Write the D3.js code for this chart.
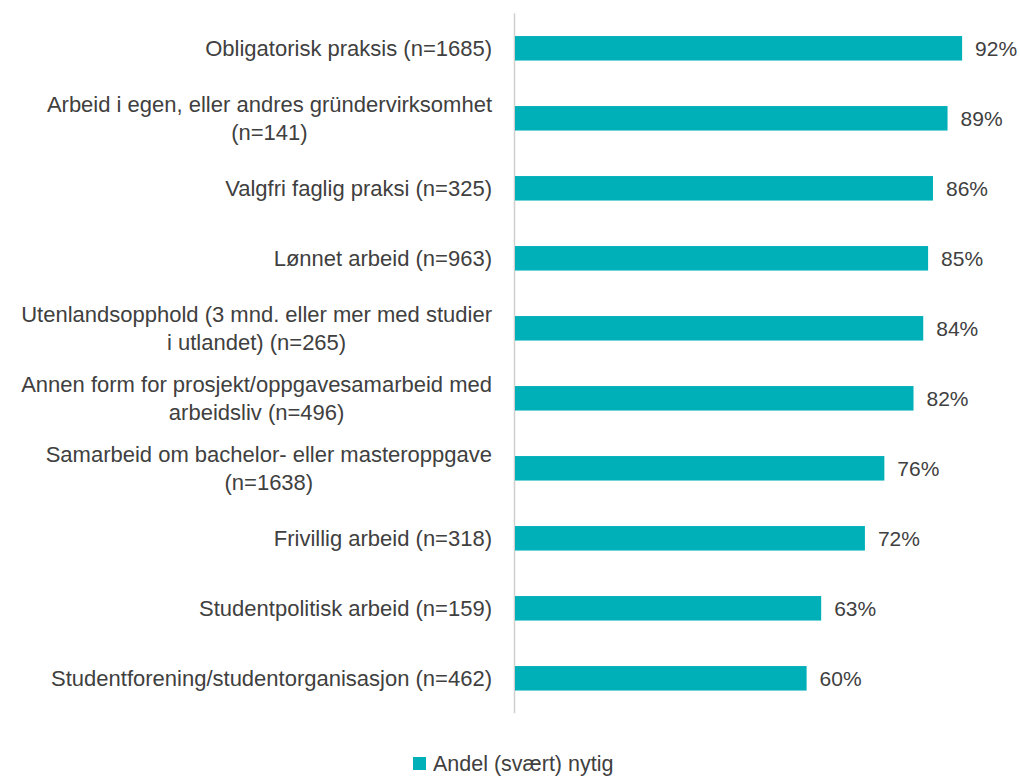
<!DOCTYPE html>
<html>
<head>
<meta charset="utf-8">
<script src="https://cdn.jsdelivr.net/npm/d3@7"></script>
<style>
  html, body { margin: 0; padding: 0; background: #fff; }
  svg text { font-family: "Liberation Sans", Arial, sans-serif; fill: #404040; }
</style>
</head>
<body>
<svg id="chart" width="1020" height="776"></svg>
<script>
// Category labels (line breaks marked with \n)
const categories = [
  "Obligatorisk praksis (n=1685)",
  "Arbeid i egen, eller andres gründervirksomhet\n(n=141)",
  "Valgfri faglig praksi (n=325)",
  "Lønnet arbeid (n=963)",
  "Utenlandsopphold (3 mnd. eller mer med studier\ni utlandet) (n=265)",
  "Annen form for prosjekt/oppgavesamarbeid med\narbeidsliv (n=496)",
  "Samarbeid om bachelor- eller masteroppgave\n(n=1638)",
  "Frivillig arbeid (n=318)",
  "Studentpolitisk arbeid (n=159)",
  "Studentforening/studentorganisasjon (n=462)"
];
// Share answering (very) useful, percent
const values = [92, 89, 86, 85, 84, 82, 76, 72, 63, 60];
const seriesName = "Andel (svært) nytig";
const barColor = "#00B0B9";

const svg = d3.select("#chart");
const x0 = 515, xMax = 1001;
const x = d3.scaleLinear().domain([0, 100]).range([x0, xMax]);
const y = d3.scaleBand().domain(categories).range([13.3, 713.3]).paddingInner(0.65).paddingOuter(0.325);

// vertical category axis line
svg.append("line")
  .attr("x1", x0 - 0.5).attr("x2", x0 - 0.5)
  .attr("y1", y.range()[0]).attr("y2", y.range()[1])
  .attr("stroke", "#d0d0d0").attr("stroke-width", 1.5);

svg.selectAll("rect.bar").data(values).join("rect")
  .attr("class", "bar")
  .attr("x", x(0))
  .attr("y", (d, i) => y(categories[i]))
  .attr("width", d => x(d) - x(0))
  .attr("height", y.bandwidth())
  .attr("fill", barColor);

svg.selectAll("text.val").data(values).join("text")
  .attr("class", "val")
  .attr("x", d => x(d) + 13)
  .attr("y", (d, i) => y(categories[i]) + y.bandwidth() / 2)
  .attr("dy", "0.35em")
  .attr("font-size", 21)
  .text(d => d + "%");

// category labels: block right-aligned to the axis, wrapped lines centred within the block
const labelRight = 492, lineH = 28;
categories.forEach(c => {
  const lines = c.split("\n");
  const cy = y(c) + y.bandwidth() / 2;
  const t = svg.append("text").attr("font-size", 22);
  const spans = lines.map((ln, j) => t.append("tspan")
    .attr("y", cy + (j - (lines.length - 1) / 2) * lineH)
    .attr("dy", "0.35em")
    .text(ln));
  if (lines.length === 1) {
    t.attr("text-anchor", "end");
    spans[0].attr("x", labelRight);
  } else {
    const w = d3.max(spans, s => s.node().getComputedTextLength());
    t.attr("text-anchor", "middle");
    spans.forEach(s => s.attr("x", labelRight - w / 2));
  }
});

// legend
const lg = svg.append("g").attr("transform", "translate(413,757)");
lg.append("rect").attr("width", 13).attr("height", 13).attr("fill", barColor);
lg.append("text").attr("x", 20).attr("y", 6.5).attr("dy", "0.33em")
  .attr("font-size", 21.5).text(seriesName);
</script>
</body>
</html>
